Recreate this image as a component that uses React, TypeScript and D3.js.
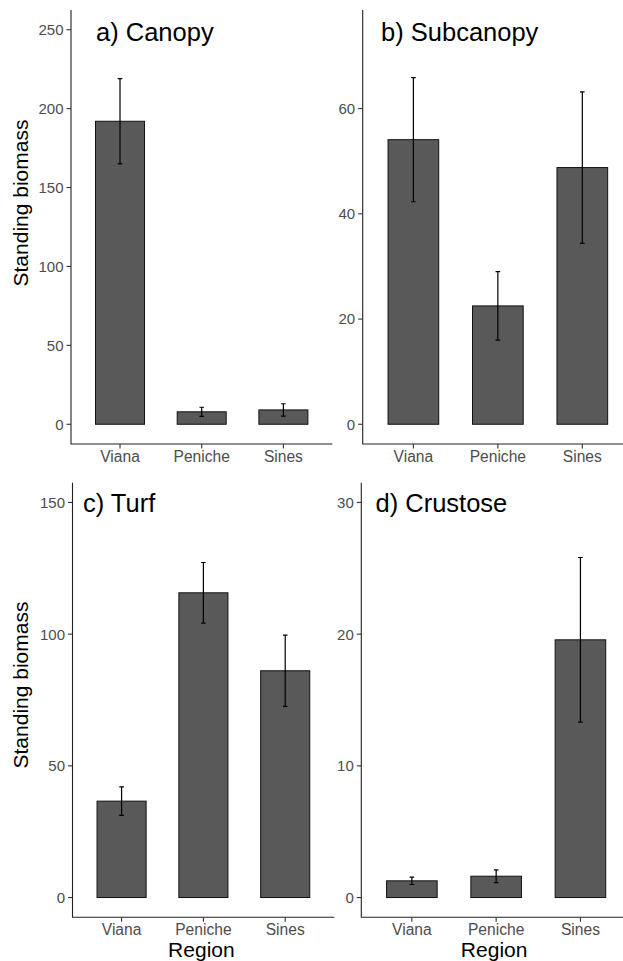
import React, { useEffect, useRef } from 'react';
import { select, scaleBand, scaleLinear } from 'd3';

const regions = ['Viana', 'Peniche', 'Sines'];

const canopyMean = [192, 7.9, 9.1];
const canopySe = [27, 2.9, 3.9];
const subcanopyMean = [54.1, 22.5, 48.8];
const subcanopySe = [11.8, 6.5, 14.4];
const turfMean = [36.6, 115.7, 86.1];
const turfSe = [5.4, 11.5, 13.5];
const crustoseMean = [1.27, 1.62, 19.57];
const crustoseSe = [0.28, 0.48, 6.25];

const canopyTicks = [0, 50, 100, 150, 200, 250];
const subcanopyTicks = [0, 20, 40, 60];
const turfTicks = [0, 50, 100, 150];
const crustoseTicks = [0, 10, 20, 30];

const FONT = '"Liberation Sans", Arial, sans-serif';

// panel boxes (pixels) + which labels to show
const panels = [
  { title: 'a) Canopy', mean: canopyMean, se: canopySe, ticks: canopyTicks, yMax: 250,
    left: 71, right: 332.4, top: 10, bottom: 444, titleX: 96, titleY: 40.5, yTitleY: 203, xTitle: false },
  { title: 'b) Subcanopy', mean: subcanopyMean, se: subcanopySe, ticks: subcanopyTicks, yMax: 75,
    left: 362.7, right: 633, top: 10, bottom: 444, titleX: 381, titleY: 40.5, yTitleY: null, xTitle: false },
  { title: 'c) Turf', mean: turfMean, se: turfSe, ticks: turfTicks, yMax: 150,
    left: 72.5, right: 334.3, top: 482.7, bottom: 917.3, titleX: 83, titleY: 512, yTitleY: 685, xTitle: true },
  { title: 'd) Crustose', mean: crustoseMean, se: crustoseSe, ticks: crustoseTicks, yMax: 30,
    left: 361.3, right: 631, top: 482.7, bottom: 917.3, titleX: 375.5, titleY: 512, yTitleY: null, xTitle: true },
];

export default function App() {
  const svgRef = useRef<SVGSVGElement>(null);

  useEffect(() => {
    const svg = select(svgRef.current);
    svg.selectAll('*').remove();

    panels.forEach(p => {
      const g = svg.append('g');
      const x = scaleBand<string>()
        .domain(regions)
        .range([p.left, p.right])
        .paddingInner(0.4)
        .paddingOuter(0.3);
      const y = scaleLinear()
        .domain([-p.yMax * 0.05, p.yMax * 1.05])
        .range([p.bottom, p.top]);

      const rows = regions.map((r, i) => ({ r, m: p.mean[i], s: p.se[i] }));

      // bars
      g.selectAll('.bar')
        .data(rows)
        .join('rect')
        .attr('x', d => x(d.r)!)
        .attr('width', x.bandwidth())
        .attr('y', d => y(d.m))
        .attr('height', d => y(0) - y(d.m))
        .attr('fill', '#595959')
        .attr('stroke', '#111')
        .attr('stroke-width', 1);

      // error bars
      const cx = (d: any) => x(d.r)! + x.bandwidth() / 2;
      g.selectAll('.err')
        .data(rows)
        .join('path')
        .attr('d', d => {
          const c = cx(d);
          const t = y(d.m + d.s);
          const b = y(d.m - d.s);
          return `M${c - 2.3},${t}H${c + 2.3}M${c},${t}V${b}M${c - 2.3},${b}H${c + 2.3}`;
        })
        .attr('fill', 'none')
        .attr('stroke', '#000')
        .attr('stroke-width', 1.2);

      // axis lines
      g.append('path')
        .attr('d', `M${p.left},${p.top}V${p.bottom}H${p.right}`)
        .attr('fill', 'none')
        .attr('stroke', '#222')
        .attr('stroke-width', 1.1);

      // y ticks
      g.selectAll('.ytick')
        .data(p.ticks)
        .join('line')
        .attr('x1', p.left - 4.5)
        .attr('x2', p.left)
        .attr('y1', d => y(d))
        .attr('y2', d => y(d))
        .attr('stroke', '#333')
        .attr('stroke-width', 1.1);
      g.selectAll('.ylab')
        .data(p.ticks)
        .join('text')
        .attr('x', p.left - 7.5)
        .attr('y', d => y(d))
        .attr('dy', '0.36em')
        .attr('text-anchor', 'end')
        .attr('font-family', FONT)
        .attr('font-size', 15)
        .attr('fill', '#4d4d4d')
        .text(d => d);

      // x ticks
      g.selectAll('.xtick')
        .data(regions)
        .join('line')
        .attr('x1', d => x(d)! + x.bandwidth() / 2)
        .attr('x2', d => x(d)! + x.bandwidth() / 2)
        .attr('y1', p.bottom)
        .attr('y2', p.bottom + 4.5)
        .attr('stroke', '#333')
        .attr('stroke-width', 1.1);
      g.selectAll('.xlab')
        .data(regions)
        .join('text')
        .attr('x', d => x(d)! + x.bandwidth() / 2)
        .attr('y', p.bottom + 17.5)
        .attr('text-anchor', 'middle')
        .attr('font-family', FONT)
        .attr('font-size', 15.6)
        .attr('fill', '#4d4d4d')
        .text(d => d);

      // panel title
      g.append('text')
        .attr('x', p.titleX)
        .attr('y', p.titleY)
        .attr('font-family', FONT)
        .attr('font-size', 25.5)
        .attr('fill', '#000')
        .text(p.title);

      if (p.yTitleY !== null) {
        g.append('text')
          .attr('transform', `translate(28,${p.yTitleY}) rotate(-90)`)
          .attr('text-anchor', 'middle')
          .attr('font-family', FONT)
          .attr('font-size', 21)
          .attr('fill', '#000')
          .text('Standing biomass');
      }
      if (p.xTitle) {
        g.append('text')
          .attr('x', (p.left + p.right) / 2 - 2)
          .attr('y', 957)
          .attr('text-anchor', 'middle')
          .attr('font-family', FONT)
          .attr('font-size', 21)
          .attr('fill', '#000')
          .text('Region');
      }
    });
  }, []);

  return (
    <svg
      ref={svgRef}
      width={623}
      height={961}
      style={{ position: 'absolute', left: 0, top: 0, background: '#fff' }}
    ></svg>
  );
}
